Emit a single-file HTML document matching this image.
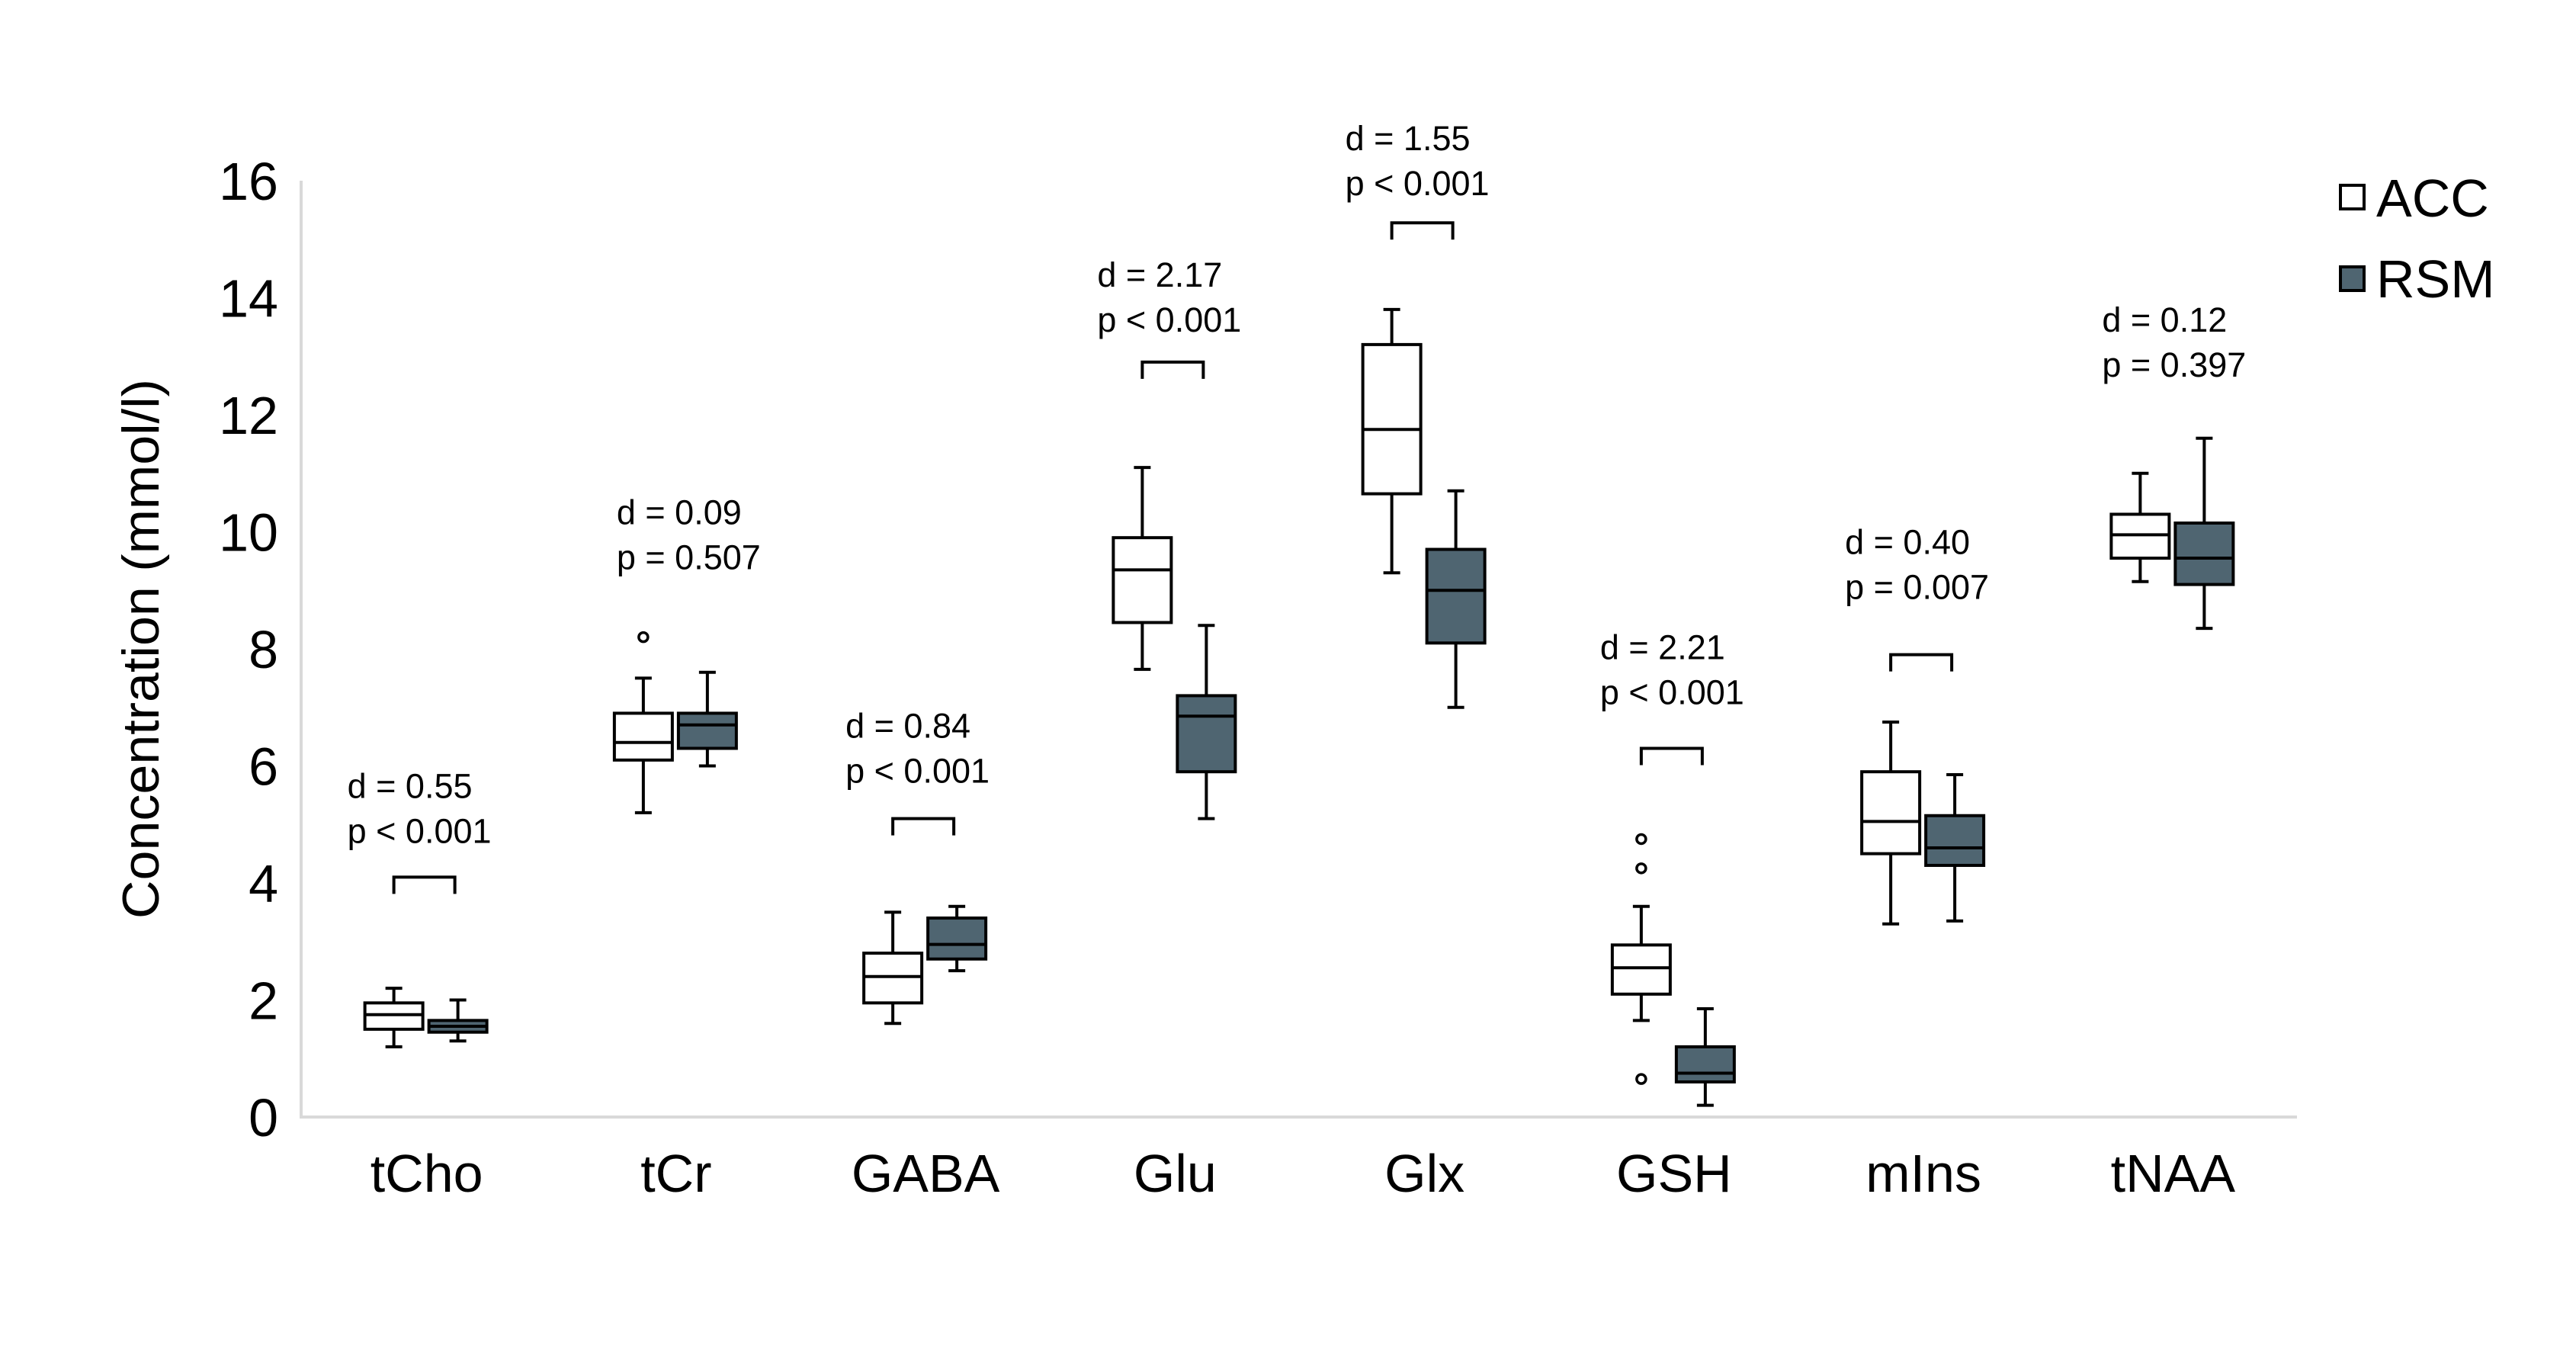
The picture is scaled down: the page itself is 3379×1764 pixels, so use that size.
<!DOCTYPE html>
<html><head><meta charset="utf-8"><style>
html,body{margin:0;padding:0;background:#fff;}
svg{display:block;font-family:"Liberation Sans",sans-serif;}
</style></head><body>
<svg id="chart" width="3379" height="1764" viewBox="0 0 3379 1764" xmlns="http://www.w3.org/2000/svg">
<rect x="0" y="0" width="3379" height="1764" fill="#fff"/>
<g id="axes"></g>
<g id="marks"></g>
<g id="notes"></g>
<text x="185" y="851" transform="rotate(-90 185 851)" text-anchor="middle" dominant-baseline="central" font-size="68" textLength="708" lengthAdjust="spacingAndGlyphs">Concentration (mmol/l)</text>
<g>
<rect x="3070" y="243" width="31" height="31" fill="#fff" stroke="#000" stroke-width="4"/>
<text x="3117" y="284" font-size="70">ACC</text>
<rect x="3070" y="350" width="31" height="31" fill="#4f6571" stroke="#000" stroke-width="4"/>
<text x="3117" y="390" font-size="70">RSM</text>
</g>
</svg>
<script>
const categories = ["tCho","tCr","GABA","Glu","Glx","GSH","mIns","tNAA"];
const yTicks = [0,2,4,6,8,10,12,14,16];
// [min, q1, median, q3, max]
const accStats = [
 [1.2,1.5,1.75,1.95,2.2],
 [5.2,6.1,6.4,6.9,7.5],
 [1.6,1.95,2.4,2.8,3.5],
 [7.65,8.45,9.35,9.9,11.1],
 [9.3,10.65,11.75,13.2,13.8],
 [1.65,2.1,2.55,2.94,3.6],
 [3.3,4.5,5.05,5.9,6.75],
 [9.15,9.55,9.95,10.3,11.0]
];
const rsmStats = [
 [1.3,1.45,1.55,1.65,2.0],
 [6.0,6.3,6.7,6.9,7.6],
 [2.5,2.7,2.95,3.4,3.6],
 [5.1,5.9,6.85,7.2,8.4],
 [7.0,8.1,9.0,9.7,10.7],
 [0.2,0.6,0.75,1.2,1.85],
 [3.35,4.3,4.6,5.15,5.85],
 [8.35,9.1,9.55,10.15,11.6]
];
const accOutliers = [[],[8.2],[],[],[],[4.75,4.25,0.65],[],[]];
const rsmOutliers = [[],[],[],[],[],[],[],[]];
const effectD = ["0.55","0.09","0.84","2.17","1.55","2.21","0.40","0.12"];
const pText = ["< 0.001","= 0.507","< 0.001","< 0.001","< 0.001","< 0.001","= 0.007","= 0.397"];
const bracketVal = [4.1,null,5.1,12.9,15.28,6.3,7.9,null];
const noteAnchorVal = [4.24,8.92,5.27,12.98,15.31,6.61,8.41,12.21];
const labelDx = [-103,-77,-104,-101,-103,-96,-102,-92];

const NS="http://www.w3.org/2000/svg";
const X0=395,X1=3013,Y0=1465,Y1=237,YMAX=16;
const band=(X1-X0)/categories.length;
const xC=i=>X0+band*(i+0.5);
const yS=v=>Y0-(Y0-Y1)*v/YMAX;
function mk(tag,attrs,parent){const e=document.createElementNS(NS,tag);for(const k in attrs)e.setAttribute(k,attrs[k]);parent.appendChild(e);return e;}
const axes=document.getElementById('axes'),marks=document.getElementById('marks'),notes=document.getElementById('notes');

let ax=mk('line',{x1:X0,y1:Y1,x2:X0,y2:Y0,stroke:'#d9d9d9','stroke-width':4},axes);


let bx=mk('line',{x1:X0-2,y1:Y0,x2:X1,y2:Y0,stroke:'#d9d9d9','stroke-width':4},axes);


yTicks.forEach(t=>{
 const e=mk('text',{x:365,y:yS(t)+25,'text-anchor':'end','font-size':70},axes);
 e.textContent=t;
 
 
});
categories.forEach((c,i)=>{
 const e=mk('text',{x:xC(i)+1,y:1563,'text-anchor':'middle','font-size':70},axes);
 e.textContent=c;
 
 
});

function drawBox(cx,s,fill,name,outs){
 const g=mk('g',{},marks);
 
 
 const w=76,cap=11,sw=4;
 mk('line',{x1:cx,y1:yS(s[4]),x2:cx,y2:yS(s[3]),stroke:'#000','stroke-width':sw},g);
 mk('line',{x1:cx,y1:yS(s[1]),x2:cx,y2:yS(s[0]),stroke:'#000','stroke-width':sw},g);
 mk('line',{x1:cx-cap,y1:yS(s[4]),x2:cx+cap,y2:yS(s[4]),stroke:'#000','stroke-width':sw},g);
 mk('line',{x1:cx-cap,y1:yS(s[0]),x2:cx+cap,y2:yS(s[0]),stroke:'#000','stroke-width':sw},g);
 mk('rect',{x:cx-w/2,y:yS(s[3]),width:w,height:yS(s[1])-yS(s[3]),fill:fill,stroke:'#000','stroke-width':sw},g);
 mk('line',{x1:cx-w/2,y1:yS(s[2]),x2:cx+w/2,y2:yS(s[2]),stroke:'#000','stroke-width':sw},g);
 outs.forEach(o=>{mk('circle',{cx:cx,cy:yS(o),r:6,fill:'#fff',stroke:'#000','stroke-width':3.5},g);});
}
categories.forEach((c,i)=>{
 drawBox(xC(i)-42,accStats[i],'#fff','box-acc-'+c,accOutliers[i]);
 drawBox(xC(i)+42,rsmStats[i],'#4f6571','box-rsm-'+c,rsmOutliers[i]);
 if(bracketVal[i]!==null){
  const y=yS(bracketVal[i]);
  const p=mk('path',{d:`M${xC(i)-42} ${y+22} V${y} H${xC(i)+38} V${y+22}`,fill:'none',stroke:'#000','stroke-width':4},notes);
  
  
 }
 const ay=yS(noteAnchorVal[i]);
 const t1=mk('text',{x:xC(i)+labelDx[i],y:ay-93,'font-size':45},notes);
 t1.textContent='d = '+effectD[i];
 
 
 const t2=mk('text',{x:xC(i)+labelDx[i],y:ay-34,'font-size':45},notes);
 t2.textContent='p '+pText[i];
 
 
});
</script>
</body></html>
